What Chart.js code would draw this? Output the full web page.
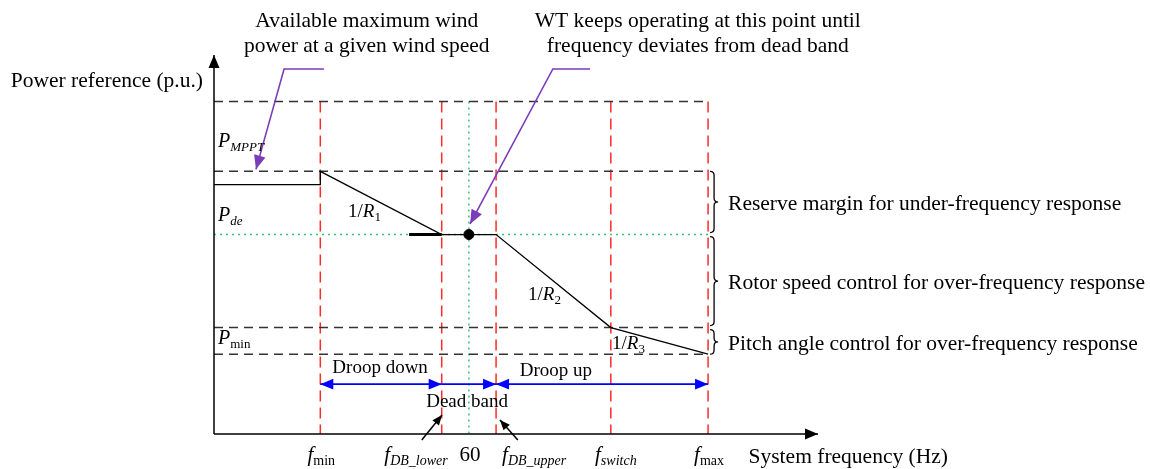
<!DOCTYPE html>
<html>
<head>
<meta charset="utf-8">
<title>Wind turbine frequency response</title>
<script src="https://cdn.jsdelivr.net/npm/chart.js@4.4.2/dist/chart.umd.min.js"></script>
<style>
    html, body { margin: 0; padding: 0; background: #fff; }
    #wrap { width: 1150px; height: 469px; }
</style>
</head>
<body>
<div id="wrap"><canvas id="chart" width="1150" height="469"></canvas></div>
<script>
// x axis: frequency, arbitrary units (0 = origin of the sketch)
const tickFreq = [17.6, 37.7, 42.2, 46.7, 65.7, 81.8];
const tickMain = ['f', 'f', '60', 'f', 'f', 'f'];
const tickSub = ['min', 'DB_lower', '', 'DB_upper', 'switch', 'max'];

// y axis: power reference levels (p.u., sketch units)
const levelTop = 1.0;
const levelMppt = 0.79;
const levelDe = 0.6;
const levelSwitch = 0.32;
const levelMin = 0.24;
const levelMpptOp = 0.75;

// the power reference curve
const curveX = [0, 17.6, 17.6, 37.7, 46.7, 65.7, 81.8];
const curveY = [levelMpptOp, levelMpptOp, levelMppt, levelDe, levelDe, levelSwitch, levelMin];

// operating point inside the dead band
const opPoint = [42.2, levelDe];

// span arrows under the curve
const spanY = 0.15;
const spanLabels = ['Droop down', 'Dead band', 'Droop up'];

// braces on the right and their texts
const braceSpans = [[levelMppt, levelDe], [levelDe, levelSwitch], [levelSwitch, levelMin]];
const braceTexts = [
    'Reserve margin for under-frequency response',
    'Rotor speed control for over-frequency response',
    'Pitch angle control for over-frequency response'
];

const noteLeft = ['Available maximum wind', 'power at a given wind speed'];
const noteRight = ['WT keeps operating at this point until', 'frequency deviates from dead band'];

const serif = '"Liberation Serif", "Times New Roman", serif';
const RED = '#ff2a2a';
const GREEN = '#33c477';
const DASHGREY = '#333333';
const PURPLE = '#7a3cb8';
const BLUE = '#0000ff';
const BIG = 21.5;

function line(points, color, width, dash, extra) {
    return Object.assign({
        data: points.map(p => ({ x: p[0], y: p[1] })),
        showLine: true,
        borderColor: color,
        backgroundColor: color,
        borderWidth: width,
        borderDash: dash || [],
        pointRadius: 0,
        tension: 0,
        clip: false
    }, extra || {});
}

const fMin = tickFreq[0], fLow = tickFreq[1], f60 = tickFreq[2], fUp = tickFreq[3], fMax = tickFreq[5];

const datasets = [];
datasets.push({
    data: [{ x: opPoint[0], y: opPoint[1] }],
    pointRadius: 5, backgroundColor: '#000', borderColor: '#000', showLine: false, clip: false
});
datasets.push(line(curveX.map((x, i) => [x, curveY[i]]), '#000', 1.3));
datasets.push(line([[32.3, levelDe], [fLow, levelDe]], '#000', 3));
// axes
datasets.push(line([[0, 0], [0, 1.14]], '#000', 1.5, [], { arrowEnd: 13 }));
datasets.push(line([[0, 0], [100, 0]], '#000', 1.5, [], { arrowEnd: 13 }));
// annotation pointers
datasets.push(line([[18.2, 1.098], [11.6, 1.098], [6.95, 0.796]], PURPLE, 1.6, [], { arrowEnd: 14 }));
datasets.push(line([[62.25, 1.098], [56.1, 1.098], [42.4, 0.632]], PURPLE, 1.6, [], { arrowEnd: 14 }));
// span arrows
datasets.push(line([[fMin, spanY], [fLow, spanY]], BLUE, 1.6, [], { arrowStart: 13, arrowEnd: 13 }));
datasets.push(line([[fLow, spanY], [fUp, spanY]], BLUE, 1.6, [], { arrowEnd: 13 }));
datasets.push(line([[fUp, spanY], [fMax, spanY]], BLUE, 1.6, [], { arrowStart: 13, arrowEnd: 13 }));
// small pointers to the dead band limits
datasets.push(line([[34.4, -0.018], [37.75, 0.057]], '#000', 1.5, [], { arrowEnd: 10 }));
datasets.push(line([[50.3, -0.018], [47.35, 0.042]], '#000', 1.5, [], { arrowEnd: 10 }));
// grid of levels
[levelTop, levelMppt, levelSwitch, levelMin].forEach(v => {
    datasets.push(line([[0, v], [fMax, v]], DASHGREY, 1.5, [9, 6]));
});
datasets.push(line([[0, levelDe], [fMax, levelDe]], GREEN, 1.5, [2, 4]));
datasets.push(line([[f60, levelTop], [f60, 0]], GREEN, 1.5, [2, 4]));
tickFreq.forEach((f, i) => {
    if (i === 2) return;
    datasets.push(line([[f, levelTop], [f, 0]], RED, 1.5, [11, 6]));
});

function head(ctx, from, to, len, color) {
    const a = Math.atan2(to.y - from.y, to.x - from.x);
    const w = len * 0.42;
    ctx.save();
    ctx.fillStyle = color;
    ctx.beginPath();
    ctx.moveTo(to.x, to.y);
    ctx.lineTo(to.x - len * Math.cos(a) + w * Math.sin(a), to.y - len * Math.sin(a) - w * Math.cos(a));
    ctx.lineTo(to.x - len * Math.cos(a) - w * Math.sin(a), to.y - len * Math.sin(a) + w * Math.cos(a));
    ctx.closePath();
    ctx.fill();
    ctx.restore();
}

// parts: [text, size, italic, dy]
function rich(ctx, parts, x, y, align) {
    const font = p => (p[2] ? 'italic ' : '') + p[1] + 'px ' + serif;
    let total = 0;
    parts.forEach(p => { ctx.font = font(p); total += ctx.measureText(p[0]).width; });
    let cx = align === 'center' ? x - total / 2 : align === 'right' ? x - total : x;
    ctx.textAlign = 'left';
    ctx.textBaseline = 'alphabetic';
    parts.forEach(p => {
        ctx.font = font(p);
        ctx.fillText(p[0], cx, y + (p[3] || 0));
        cx += ctx.measureText(p[0]).width;
    });
}

function brace(ctx, x, y1, y2, w) {
    const ym = (y1 + y2) / 2, r = 4, xm = x + w / 2;
    ctx.beginPath();
    ctx.moveTo(x, y1);
    ctx.quadraticCurveTo(xm, y1, xm, y1 + r);
    ctx.lineTo(xm, ym - r);
    ctx.quadraticCurveTo(xm, ym, x + w, ym);
    ctx.quadraticCurveTo(xm, ym, xm, ym + r);
    ctx.lineTo(xm, y2 - r);
    ctx.quadraticCurveTo(xm, y2, x, y2);
    ctx.stroke();
}

const sketchPlugin = {
    id: 'sketch',
    afterDatasetsDraw(chart) {
        const ctx = chart.ctx;
        const X = chart.scales.x, Y = chart.scales.y;
        const px = v => X.getPixelForValue(v);
        const py = v => Y.getPixelForValue(v);

        chart.data.datasets.forEach((ds, i) => {
            const pts = chart.getDatasetMeta(i).data;
            if (ds.arrowEnd) head(ctx, pts[pts.length - 2], pts[pts.length - 1], ds.arrowEnd, ds.borderColor);
            if (ds.arrowStart) head(ctx, pts[1], pts[0], ds.arrowStart, ds.borderColor);
        });

        ctx.save();
        ctx.fillStyle = '#000';
        ctx.strokeStyle = '#000';
        ctx.lineWidth = 1.3;

        // braces and their descriptions
        braceSpans.forEach((s, i) => {
            const y1 = py(s[0]) + (i > 0 ? 2 : 0);
            const y2 = py(s[1]) - (i < 2 ? 2 : 0);
            brace(ctx, px(fMax) + 2, y1, y2, 8);
            rich(ctx, [[braceTexts[i], BIG]], px(fMax) + 20, (y1 + y2) / 2 + 8, 'left');
        });

        // axis titles
        rich(ctx, [['Power reference (p.u.)', BIG]], px(0) - 11, py(1.044), 'right');
        rich(ctx, [['System frequency (Hz)', BIG]], px(88.5), py(-0.087), 'left');

        // tick labels
        tickFreq.forEach((f, i) => {
            const parts = [[tickMain[i], 21, i !== 2, 0]];
            if (tickSub[i]) parts.push([tickSub[i], 14, !['min', 'max'].includes(tickSub[i]), 4]);
            const y = py(-0.081);
            if (i === 1) rich(ctx, parts, px(f) + 6, y, 'right');
            else if (i === 3) rich(ctx, parts, px(f) + 6, y, 'left');
            else rich(ctx, parts, px(f) + (i === 4 ? 5 : 1), y, 'center');
        });

        // level labels
        rich(ctx, [['P', 20, true], ['MPPT', 13, true, 4]], px(0.66), py(0.863), 'left');
        rich(ctx, [['P', 20, true], ['de', 13, true, 4]], px(0.66), py(0.641), 'left');
        rich(ctx, [['P', 20, true], ['min', 13, false, 4]], px(0.66), py(0.271), 'left');

        // droop labels
        rich(ctx, [['1/', 19], ['R', 19, true], ['1', 13, false, 4]], px(22.2), py(0.653), 'left');
        rich(ctx, [['1/', 19], ['R', 19, true], ['2', 13, false, 4]], px(52.0), py(0.403), 'left');
        rich(ctx, [['1/', 19], ['R', 19, true], ['3', 13, false, 4]], px(65.9), py(0.256), 'left');

        // span labels
        rich(ctx, [[spanLabels[0], 19]], px(27.5), py(0.183), 'center');
        rich(ctx, [[spanLabels[1], 19]], px(41.9), py(0.081), 'center');
        rich(ctx, [[spanLabels[2], 19]], px(56.6), py(0.174), 'center');

        // notes above the chart
        rich(ctx, [[noteLeft[0], BIG]], px(25.3), py(1.224), 'center');
        rich(ctx, [[noteLeft[1], BIG]], px(25.3), py(1.149), 'center');
        rich(ctx, [[noteRight[0], BIG]], px(80.1), py(1.224), 'center');
        rich(ctx, [[noteRight[1], BIG]], px(80.1), py(1.149), 'center');
        ctx.restore();
    }
};

new Chart(document.getElementById('chart'), {
    type: 'scatter',
    data: { datasets },
    options: {
        responsive: false,
        animation: false,
        layout: { padding: { left: 214, right: 332, top: 55, bottom: 35 } },
        scales: {
            x: { type: 'linear', min: 0, max: 100, display: false },
            y: { type: 'linear', min: 0, max: 1.14, display: false }
        },
        plugins: { legend: { display: false }, tooltip: { enabled: false } },
        events: []
    },
    plugins: [sketchPlugin]
});
</script>
</body>
</html>
